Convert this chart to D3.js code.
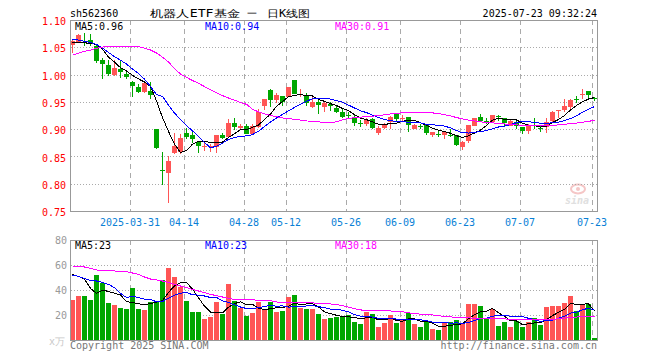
<!DOCTYPE html>
<html><head><meta charset="utf-8">
<script src="https://cdn.jsdelivr.net/npm/d3@7"></script>
<style>
html,body{margin:0;padding:0;background:#fff;}
svg{display:block;}
text{font-family:"DejaVu Sans Mono","Liberation Mono",monospace;font-size:10px;}
</style></head><body>
<svg id="c" width="660" height="360"></svg>
<script>
const dates = [
"2025-03-17","2025-03-18","2025-03-19","2025-03-20","2025-03-21","2025-03-24","2025-03-25","2025-03-26","2025-03-27","2025-03-28","2025-03-31",
"2025-04-01","2025-04-02","2025-04-03","2025-04-07","2025-04-08","2025-04-09","2025-04-10","2025-04-11","2025-04-14","2025-04-15","2025-04-16","2025-04-17","2025-04-18","2025-04-21","2025-04-22","2025-04-23","2025-04-24","2025-04-25","2025-04-28","2025-04-29","2025-04-30",
"2025-05-06","2025-05-07","2025-05-08","2025-05-09","2025-05-12","2025-05-13","2025-05-14","2025-05-15","2025-05-16","2025-05-19","2025-05-20","2025-05-21","2025-05-22","2025-05-23","2025-05-26","2025-05-27","2025-05-28","2025-05-29","2025-05-30",
"2025-06-03","2025-06-04","2025-06-05","2025-06-06","2025-06-09","2025-06-10","2025-06-11","2025-06-12","2025-06-13","2025-06-16","2025-06-17","2025-06-18","2025-06-19","2025-06-20","2025-06-23","2025-06-24","2025-06-25","2025-06-26","2025-06-27","2025-06-30",
"2025-07-01","2025-07-02","2025-07-03","2025-07-04","2025-07-07","2025-07-08","2025-07-09","2025-07-10","2025-07-11","2025-07-14","2025-07-15","2025-07-16","2025-07-17","2025-07-18","2025-07-21","2025-07-22","2025-07-23"];

const openP = [1.055,1.059,1.060,1.064,1.053,1.026,1.018,0.999,1.010,1.001,
0.986,0.978,0.967,0.970,0.900,0.826,0.820,0.856,0.857,0.893,
0.889,0.877,0.869,0.868,0.868,0.889,0.886,0.912,0.902,0.906,
0.891,0.905,0.943,0.972,0.953,0.961,0.958,0.990,0.963,0.962,
0.941,0.950,0.940,0.946,0.939,0.932,0.926,0.923,0.912,0.909,
0.918,0.893,0.902,0.914,0.927,0.920,0.923,0.900,0.906,0.908,
0.889,0.892,0.889,0.890,0.889,0.868,0.877,0.907,0.923,0.915,
0.914,0.925,0.921,0.906,0.914,0.904,0.896,0.908,0.903,0.903,
0.916,0.934,0.934,0.942,0.955,0.964,0.969,0.957];
const highP = [1.063,1.074,1.077,1.074,1.054,1.030,1.026,1.026,1.024,1.007,
0.989,0.983,0.987,0.986,0.900,0.859,0.851,0.893,0.891,0.902,
0.894,0.878,0.878,0.872,0.890,0.893,0.918,0.920,0.910,0.910,
0.909,0.937,0.955,0.973,0.966,0.961,0.978,0.990,0.973,0.966,
0.958,0.954,0.952,0.950,0.944,0.937,0.931,0.926,0.916,0.921,
0.920,0.906,0.912,0.924,0.927,0.926,0.923,0.909,0.910,0.909,
0.895,0.897,0.897,0.900,0.889,0.878,0.907,0.921,0.928,0.921,
0.926,0.926,0.921,0.917,0.918,0.904,0.909,0.921,0.907,0.921,
0.934,0.935,0.955,0.956,0.960,0.973,0.969,0.958];
const lowP = [1.040,1.059,1.052,1.053,1.022,0.991,0.998,0.998,0.993,0.992,
0.958,0.967,0.966,0.955,0.863,0.798,0.765,0.854,0.854,0.882,
0.874,0.856,0.860,0.858,0.857,0.882,0.885,0.899,0.899,0.891,
0.889,0.903,0.935,0.941,0.948,0.942,0.958,0.964,0.958,0.943,
0.938,0.927,0.932,0.934,0.929,0.921,0.920,0.906,0.904,0.906,
0.900,0.890,0.900,0.900,0.913,0.913,0.894,0.900,0.900,0.889,
0.886,0.886,0.882,0.886,0.869,0.862,0.875,0.905,0.913,0.909,
0.912,0.915,0.905,0.905,0.901,0.892,0.892,0.901,0.895,0.893,
0.913,0.921,0.931,0.935,0.948,0.955,0.955,0.952];
const closeP = [1.062,1.072,1.059,1.056,1.026,1.018,1.002,1.012,1.005,0.996,
0.978,0.969,0.984,0.963,0.865,0.825,0.842,0.869,0.883,0.886,
0.882,0.869,0.870,0.869,0.890,0.884,0.911,0.904,0.905,0.892,
0.905,0.932,0.955,0.954,0.962,0.950,0.977,0.965,0.964,0.948,
0.950,0.945,0.948,0.942,0.932,0.922,0.925,0.912,0.911,0.917,
0.902,0.902,0.909,0.923,0.918,0.921,0.909,0.907,0.905,0.893,
0.894,0.891,0.895,0.889,0.871,0.877,0.907,0.921,0.915,0.914,
0.926,0.924,0.912,0.915,0.907,0.897,0.906,0.907,0.902,0.913,
0.932,0.935,0.942,0.954,0.954,0.965,0.961,0.956];
const volume = [32,35.2,35.2,32,52,45.3,29.6,28,25.6,24.8,
41.6,24.8,24,30.4,30.4,48,57.6,50.4,42.4,31.2,
22.4,22.4,16.8,18.4,30.4,20.8,44.8,31.2,25.6,19.2,
21.6,30.4,24,30.4,22.4,23.2,34.4,36,25.6,24.8,
24.8,20.8,16.8,17.9,18.7,19.2,20,14.4,12.8,22.4,
20.8,10.4,13.6,20,13.6,16.8,21.6,12.8,10.4,14.4,
8.8,8,13.6,14.4,16,12.8,28.8,28.8,27.2,16.8,
24.8,11.2,14.4,10.4,15.2,10.4,14.4,17.6,12,26.4,
27.2,27.2,29.6,35.2,23.2,28,28.8,1.6];

// leading moving-average values (need data before the window)
const ma5Head = [1.059,1.058,1.058,1.0575];
const ma10Head = [1.0645,1.0632,1.0608,1.0590,1.0553,1.0486,1.0406,1.0327,1.0265,1.0192,1.0100,1.0020,0.9916,0.9782,0.9635];
const ma30Head = [1.0357,1.0394,1.0424,1.0449,1.0479,1.0504,1.0516,1.052,1.052,1.052,1.052,1.051,1.0486,1.0450,1.0394,1.0320,1.0229,1.0110,1.0010,0.9950,0.9890,0.9840,0.9780,0.9720,0.9665,0.9615,0.9570,0.9530,0.9490,0.9455];
const volMa5Head = [52.5,50.9,48.8,41.3];
const volMa10Head = [52.0,50.9,49.3,47.5,47.2,46.1,44.5,41.9,37.3];
const volMa30Head = [59.2,58.9,58.4,57.3,56.0,55.7,55.5,55.2,54.9,54.7,53.6,52.5,50.4,48.8,48.0,47.2,46.1,44.5,43.2,41.9,40.5,39.2,37.9,36.5,35.5,34.4,33.3,32.5,32.0];

const priceTicks = [0.75,0.80,0.85,0.90,0.95,1.00,1.05,1.10];
const volTicks = [20,40,60,80];
const tickDates = ["2025-03-31","2025-04-14","2025-04-28","2025-05-12","2025-05-26","2025-06-09","2025-06-23","2025-07-07","2025-07-23"];
const tickLabels = ["2025-03-31","04-14","04-28","05-12","05-26","06-09","06-23","07-07","07-23"];
const priceMaLabels = ["MA5:0.96","MA10:0.94","MA30:0.91"];
const volMaLabels = ["MA5:23","MA10:23","MA30:18"];

const RED="#ff5555", GREEN="#00a600", GRID="#aaaaaa", BORDER="#999999";
const maColors=["#000000","#0000ff","#ff00ff"];

function movingAvg(vals,n,head){
  return vals.map((v,i)=>{
    if(i<head.length) return head[i];
    return d3.mean(vals.slice(i-n+1,i+1));
  });
}

const svg=d3.select("#c");
const x=d3.scalePoint().domain(dates).range([72.5,594.5]);
const yP=d3.scaleLinear().domain([0.75,1.10]).range([211,20]);
const yV=d3.scaleLinear().domain([0,80]).range([340,240]);
const L=70.5,R=597.5;

const defs=svg.append("defs");
defs.append("clipPath").attr("id","cp1").append("rect").attr("x",70).attr("y",20).attr("width",528).attr("height",192);
defs.append("clipPath").attr("id","cp2").append("rect").attr("x",70).attr("y",240).attr("width",528).attr("height",101);

// watermark
const wm=svg.append("g");
wm.append("ellipse").attr("cx",578).attr("cy",189).attr("rx",7).attr("ry",4.5).attr("fill","none").attr("stroke","#f5c6c6").attr("stroke-width",2);
wm.append("circle").attr("cx",578).attr("cy",189).attr("r",2).attr("fill","#f5c6c6");
wm.append("text").attr("x",565).attr("y",204).attr("font-family","DejaVu Sans").attr("font-style","italic").attr("font-weight","bold").attr("font-size",14).attr("fill","#e0e0e0").text("sina");

// grids main
const g=svg.append("g").attr("shape-rendering","crispEdges");
g.selectAll(".hg").data(priceTicks.filter(t=>t>0.76&&t<1.09)).join("line")
 .attr("x1",L).attr("x2",R).attr("y1",d=>Math.round(yP(d))+0.5).attr("y2",d=>Math.round(yP(d))+0.5)
 .attr("stroke",GRID).attr("stroke-dasharray","1,2");
g.selectAll(".vg").data(tickDates).join("line")
 .attr("x1",d=>x(d)-2).attr("x2",d=>x(d)-2).attr("y1",20).attr("y2",211)
 .attr("stroke",GRID).attr("stroke-dasharray","5,4");
// grids volume
g.selectAll(".hgv").data(volTicks.filter(t=>t<80)).join("line")
 .attr("x1",L).attr("x2",R).attr("y1",d=>Math.round(yV(d))+0.5).attr("y2",d=>Math.round(yV(d))+0.5)
 .attr("stroke",GRID).attr("stroke-dasharray","1,2");
g.selectAll(".vgv").data(tickDates).join("line")
 .attr("x1",d=>x(d)-2).attr("x2",d=>x(d)-2).attr("y1",240).attr("y2",340)
 .attr("stroke",GRID).attr("stroke-dasharray","5,4");

// candles
const data=dates.map((d,i)=>({d,o:openP[i],h:highP[i],l:lowP[i],c:closeP[i],v:volume[i],up:closeP[i]>=openP[i]}));
const cg=svg.append("g").attr("clip-path","url(#cp1)").attr("shape-rendering","crispEdges");
cg.selectAll(".wick").data(data).join("line")
 .attr("x1",d=>x(d.d)).attr("x2",d=>x(d.d))
 .attr("y1",d=>Math.round(yP(d.h))).attr("y2",d=>Math.round(yP(d.l)))
 .attr("stroke",d=>d.up?RED:GREEN).attr("stroke-width",1);
cg.selectAll(".body").data(data).join("rect")
 .attr("x",d=>x(d.d)-2.5).attr("width",5)
 .attr("y",d=>Math.round(yP(Math.max(d.o,d.c))))
 .attr("height",d=>Math.max(1,Math.round(Math.abs(yP(d.o)-yP(d.c)))))
 .attr("fill",d=>d.up?RED:GREEN);

// MA lines main
const line=d3.line().x((d,i)=>x(dates[i])).y(d=>yP(d));
const pMAs=[movingAvg(closeP,5,ma5Head),movingAvg(closeP,10,ma10Head),movingAvg(closeP,30,ma30Head)];
const lg=svg.append("g").attr("clip-path","url(#cp1)").attr("shape-rendering","crispEdges");
pMAs.forEach((m,k)=>lg.append("path").attr("d",line(m)).attr("fill","none").attr("stroke",maColors[k]).attr("stroke-width",1));

// volume bars
const vg=svg.append("g").attr("clip-path","url(#cp2)").attr("shape-rendering","crispEdges");
vg.selectAll(".bar").data(data).join("rect")
 .attr("x",d=>x(d.d)-2.5).attr("width",5)
 .attr("y",d=>Math.round(yV(d.v))).attr("height",d=>340-Math.round(yV(d.v)))
 .attr("fill",d=>d.up?RED:GREEN);
const vline=d3.line().x((d,i)=>x(dates[i])).y(d=>yV(d));
const vMAs=[movingAvg(volume,5,volMa5Head),movingAvg(volume,10,volMa10Head),movingAvg(volume,30,volMa30Head)];
const vlg=svg.append("g").attr("clip-path","url(#cp2)").attr("shape-rendering","crispEdges");
vMAs.forEach((m,k)=>vlg.append("path").attr("d",vline(m)).attr("fill","none").attr("stroke",maColors[k]).attr("stroke-width",1));

// borders
const bg=svg.append("g").attr("shape-rendering","crispEdges");
bg.append("rect").attr("x",L).attr("y",20.5).attr("width",R-L).attr("height",191).attr("fill","none").attr("stroke",BORDER);
bg.append("rect").attr("x",L).attr("y",240.5).attr("width",R-L).attr("height",100).attr("fill","none").attr("stroke",BORDER);

// axis labels
svg.selectAll(".pl").data(priceTicks).join("text")
 .attr("x",66).attr("y",d=>yP(d)+5.2).attr("text-anchor","end").attr("fill","#ff0000")
 .text(d=>d3.format(".2f")(d));
svg.selectAll(".vl").data(volTicks).join("text")
 .attr("x",67).attr("y",d=>yV(d)+3.8).attr("text-anchor","end").attr("fill","#999999")
 .text(d=>d);
svg.append("text").attr("x",49).attr("y",345).attr("fill","#c8c8c8")
 .attr("font-family","DejaVu Sans Mono, Noto Sans CJK SC").text("x万");
svg.selectAll(".dl").data(tickDates).join("text")
 .attr("x",d=>x(d)-2.5).attr("y",225.5).attr("text-anchor","middle").attr("fill","#0a7fd6")
 .text((d,i)=>tickLabels[i]);

// MA labels
const labX=[75,205,335];
priceMaLabels.forEach((t,k)=>svg.append("text").attr("x",labX[k]).attr("y",29.5).attr("fill",maColors[k]).text(t));
volMaLabels.forEach((t,k)=>svg.append("text").attr("x",labX[k]).attr("y",249).attr("fill",maColors[k]).text(t));

// title
svg.append("text").attr("x",70).attr("y",16.5).attr("fill","#000").text("sh562360");
const cjk="Noto Sans CJK SC";
svg.append("text").attr("x",150).attr("y",17).attr("font-family",cjk).attr("font-size",14).attr("fill","#000")
 .attr("textLength",90).attr("lengthAdjust","spacingAndGlyphs").text("机器人ETF基金");
svg.append("text").attr("x",247).attr("y",17).attr("font-family",cjk).attr("font-size",14).attr("fill","#000").text("一");
svg.append("text").attr("x",267).attr("y",17).attr("font-family",cjk).attr("font-size",14).attr("fill","#000")
 .attr("textLength",43).attr("lengthAdjust","spacingAndGlyphs").text("日K线图");
svg.append("text").attr("x",597).attr("y",16.5).attr("text-anchor","end").attr("fill","#000").text("2025-07-23 09:32:24");

// footer
svg.append("text").attr("x",70).attr("y",348.5).attr("fill","#777").text("Copyright 2025 SINA.COM");
svg.append("text").attr("x",597).attr("y",348.5).attr("text-anchor","end").attr("fill","#777").text("http://finance.sina.com.cn");
</script>
</body></html>
